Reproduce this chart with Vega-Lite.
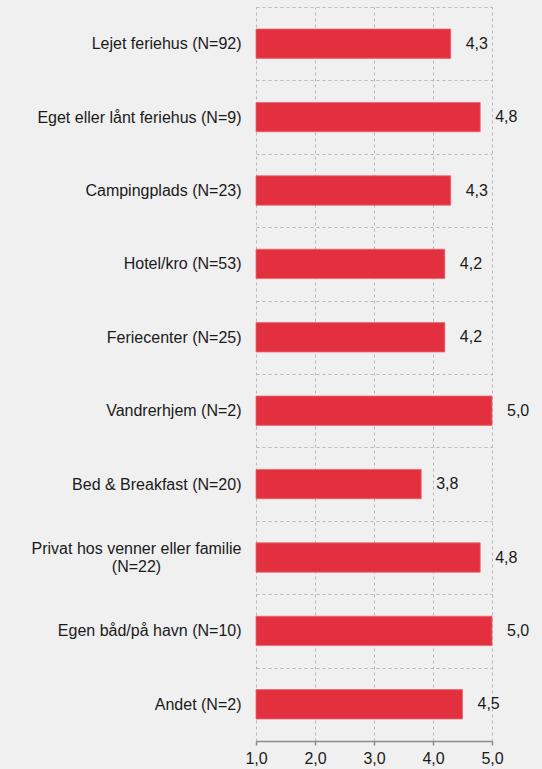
{
  "$schema": "https://vega.github.io/schema/vega-lite/v6.json",
  "autosize": {"type": "none"},
  "padding": {"left": 256, "top": 7, "right": 50, "bottom": 28},
  "width": 236,
  "height": 734,
  "background": "#f0f0f0",
  "config": {
    "view": {"stroke": null},
    "locale": {"number": {"decimal": ",", "thousands": ".", "grouping": [3], "currency": ["", " kr."]}},
    "font": "Liberation Sans"
  },
  "data": {
    "values": [
      {"kategori": "Lejet feriehus (N=92)", "vaerdi": 4.3},
      {"kategori": "Eget eller lånt feriehus (N=9)", "vaerdi": 4.8},
      {"kategori": "Campingplads (N=23)", "vaerdi": 4.3},
      {"kategori": "Hotel/kro (N=53)", "vaerdi": 4.2},
      {"kategori": "Feriecenter (N=25)", "vaerdi": 4.2},
      {"kategori": "Vandrerhjem (N=2)", "vaerdi": 5.0},
      {"kategori": "Bed & Breakfast (N=20)", "vaerdi": 3.8},
      {"kategori": "Privat hos venner eller familie (N=22)", "vaerdi": 4.8},
      {"kategori": "Egen båd/på havn (N=10)", "vaerdi": 5.0},
      {"kategori": "Andet (N=2)", "vaerdi": 4.5}
    ]
  },
  "encoding": {
    "y": {
      "field": "kategori",
      "type": "nominal",
      "sort": null,
      "scale": {"paddingInner": 0, "paddingOuter": 0},
      "axis": {
        "title": null,
        "domain": false,
        "ticks": false,
        "grid": true,
        "tickBand": "extent",
        "gridColor": "#b8b8b8",
        "gridDash": [3, 3],
        "gridWidth": 1,
        "labelFontSize": 16,
        "labelColor": "#1a1a1a",
        "labelLineHeight": 18,
        "labelLimit": 260,
        "labelAlign": {"condition": {"test": "datum.value == 'Privat hos venner eller familie (N=22)'", "value": "center"}, "value": "right"},
        "labelPadding": {"condition": {"test": "datum.value == 'Privat hos venner eller familie (N=22)'", "value": 120}, "value": 15},
        "labelOffset": {"condition": {"test": "datum.value == 'Privat hos venner eller familie (N=22)'", "value": -9}, "value": 0},
        "labelExpr": "datum.value == 'Privat hos venner eller familie (N=22)' ? ['Privat hos venner eller familie', '(N=22)'] : datum.value"
      }
    }
  },
  "layer": [
    {
      "mark": {"type": "bar", "color": "#e3303f", "stroke": "#ea6670", "strokeWidth": 0.8, "height": {"band": 0.4}},
      "encoding": {
        "x": {
          "field": "vaerdi",
          "type": "quantitative",
          "scale": {"domain": [1, 5], "zero": false, "nice": false},
          "axis": {
            "title": null,
            "values": [1, 2, 3, 4, 5],
            "format": ".1f",
            "grid": true,
            "gridColor": "#b8b8b8",
            "gridDash": [3, 3],
            "domainColor": "#8c8c8c",
            "domainWidth": 1.5,
            "tickColor": "#8c8c8c",
            "tickSize": 4,
            "tickWidth": 1.5,
            "labelFontSize": 16,
            "labelColor": "#1a1a1a",
            "labelPadding": 5,
            "labelFlush": false
          }
        },
        "x2": {"datum": 1}
      }
    },
    {
      "mark": {"type": "text", "align": "left", "baseline": "middle", "dx": 15, "fontSize": 16, "color": "#1a1a1a"},
      "encoding": {
        "x": {"field": "vaerdi", "type": "quantitative"},
        "text": {"field": "vaerdi", "type": "quantitative", "format": ".1f"}
      }
    }
  ]
}
